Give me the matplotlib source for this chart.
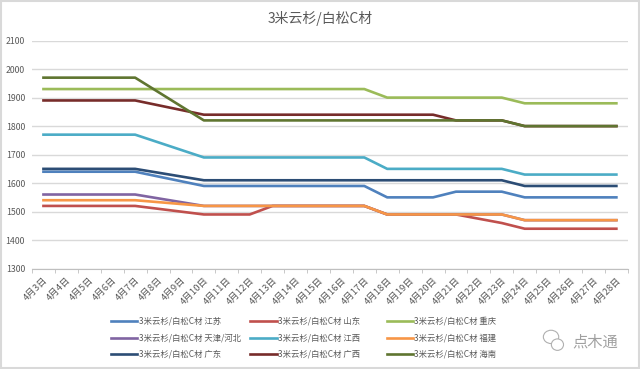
import numpy as np
import matplotlib.pyplot as plt
from matplotlib.lines import Line2D
from matplotlib.patches import Rectangle, Ellipse

plt.rcParams['font.family'] = ['Noto Sans CJK SC', 'DejaVu Sans']

title = "3米云杉/白松C材"
all_days = list(range(3, 29))
tick_labels = [f"4月{d}日" for d in all_days]

# dates that have a price (the gaps are joined by straight lines)
days = [3, 4, 5, 6, 7, 10, 11, 12, 13, 14, 15, 16, 17, 18, 19, 20, 21, 23, 24, 25, 26, 27, 28]

names = ["江苏", "山东", "重庆", "天津/河北", "江西", "福建", "广东", "广西", "海南"]
jiangsu = [1640]*5 + [1590]*8 + [1550]*3 + [1570]*2 + [1550]*5
shandong = [1520]*5 + [1490]*3 + [1520]*5 + [1490]*4 + [1460, 1440, 1440, 1440, 1440, 1440]
chongqing = [1930]*13 + [1900]*5 + [1880]*5
tianjin = [1560]*5 + [1520]*8 + [1490]*5 + [1470]*5
jiangxi = [1770]*5 + [1690]*8 + [1650]*5 + [1630]*5
fujian = [1540]*5 + [1520]*8 + [1490]*5 + [1470]*5
guangdong = [1650]*5 + [1610]*13 + [1590]*5
guangxi = [1890]*5 + [1840]*11 + [1820]*2 + [1800]*5
hainan = [1970]*5 + [1820]*13 + [1800]*5
series = [jiangsu, shandong, chongqing, tianjin, jiangxi, fujian, guangdong, guangxi, hainan]

colors = ["#4F81BD", "#C0504D", "#9BBB59", "#8064A2", "#4BACC6", "#F79646",
          "#2C4D75", "#772C2A", "#5F7530"]

grey = "#595959"
fig = plt.figure(figsize=(6.4, 3.69), dpi=100)
ax = fig.add_axes([0.05, 0.272, 0.931, 0.618])

for vals, c in zip(series, colors):
    ax.plot(days, vals, color=c, lw=1.9, solid_joinstyle='round', zorder=3)

ax.set_xlim(2.5, 28.5)
ax.set_ylim(1300, 2100)
ax.set_yticks(np.arange(1300, 2101, 100))
ax.grid(axis='y', color='#d9d9d9', lw=1)
ax.set_axisbelow(True)
ax.set_xticks(all_days)
ax.set_xticklabels(tick_labels, rotation=45, ha='right', va='top',
                   rotation_mode='anchor', fontsize=6.8, color=grey)
ax.set_xticks(np.arange(2.5, 29, 1), minor=True)
ax.tick_params(axis='x', which='major', length=0, pad=5)
ax.tick_params(axis='x', which='minor', length=3, color='#bfbfbf')
ax.tick_params(axis='y', length=0, labelsize=6.3, labelcolor=grey, pad=5)
for s in ['top', 'right', 'left']:
    ax.spines[s].set_visible(False)
ax.spines['bottom'].set_color('#bfbfbf')

fig.text(0.5, 0.951, title, ha='center', va='center', fontsize=10, color=grey)

# legend, three columns, Excel style
col_x = [0.173, 0.391, 0.604]
for col in range(3):
    handles = []
    labels = []
    for row in range(3):
        i = row*3 + col
        handles.append(Line2D([], [], color=colors[i], lw=1.9))
        labels.append(f"{title} {names[i]}")
    fig.legend(handles, labels, loc='upper left', bbox_to_anchor=(col_x[col], 0.141),
               frameon=False, fontsize=6, handlelength=3.2, handletextpad=0.15,
               labelspacing=0.9, borderaxespad=0, borderpad=0, labelcolor=grey)

# watermark
fig.text(0.895, 0.074, "点木通", fontsize=11, color='#a0a0a0', va='center', ha='left')
fig.patches.append(Ellipse((0.861, 0.087), 0.024, 0.036, transform=fig.transFigure,
                           fill=False, ec='#b0b0b0', lw=0.8))
fig.patches.append(Ellipse((0.871, 0.066), 0.019, 0.031, transform=fig.transFigure,
                           fc='white', ec='#b0b0b0', lw=0.8))

fig.patches.append(Rectangle((0.001, 0.002), 0.997, 0.995, transform=fig.transFigure,
                             fill=False, ec='#d9d9d9', lw=1.5))

fig.savefig("out.png", dpi=100, facecolor='white')
